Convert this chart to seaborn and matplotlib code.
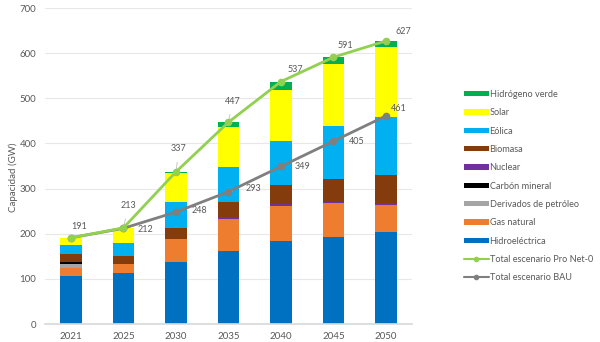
import numpy as np
import pandas as pd
import seaborn as sns
import matplotlib
matplotlib.use("Agg")
import matplotlib.pyplot as plt
from matplotlib.patches import Patch
from matplotlib.lines import Line2D

years = ["2021", "2025", "2030", "2035", "2040", "2045", "2050"]
hidroelectrica = [107, 112, 138, 162, 183, 193, 204]
gas_natural = [17, 20, 50, 71, 79, 75, 60]
derivados = [9, 0, 0, 0, 0, 0, 0]
carbon = [4, 0, 0, 0, 0, 0, 0]
nuclear = [0, 1, 0, 3, 4, 3, 3]
biomasa = [17, 18, 24, 34, 42, 51, 62]
eolica = [20, 29, 59, 78, 98, 117, 129]
solar = [16, 32, 63, 89, 113, 138, 156]
hidrogeno = [0, 1, 3, 10, 18, 14, 13]
total_pronet0 = [191, 213, 337, 447, 537, 591, 627]
total_bau = [191, 212, 248, 293, 349, 405, 461]

series_names = ["Hidroeléctrica", "Gas natural", "Derivados de petróleo", "Carbón mineral",
                "Nuclear", "Biomasa", "Eólica", "Solar", "Hidrógeno verde"]
series_vals = [hidroelectrica, gas_natural, derivados, carbon, nuclear, biomasa, eolica, solar, hidrogeno]
colors = ["#0070C0", "#EF7D30", "#A5A5A5", "#000000", "#7030A0", "#843C0C", "#00B0F0", "#FFFF00", "#00B050"]
green_line = "#92D050"
grey_line = "#7F7F7F"
text_col = "#595959"

sns.set_theme(style="white")
plt.rcParams["font.family"] = ["Lato", "DejaVu Sans"]

fig = plt.figure(figsize=(6, 3.42), dpi=100)
ax = fig.add_axes([0.0745, 0.0526, 0.6125, 0.924])

bottom = np.zeros(len(years))
for name, vals, c in zip(series_names, series_vals, colors):
    df = pd.DataFrame({"year": years, "val": vals})
    sns.barplot(data=df, x="year", y="val", order=years, color=c, bottom=bottom,
                width=0.41, ax=ax, saturation=1, linewidth=0, errorbar=None)
    bottom = bottom + np.array(vals)

xs = np.arange(len(years))
ax.plot(xs, total_bau, color=grey_line, lw=2, marker="o", ms=4.5, zorder=5)
ax.plot(xs, total_pronet0, color=green_line, lw=2, marker="o", ms=4.5, zorder=6)

ax.set_xlim(-0.5, 6.5)
ax.set_ylim(0, 700)
ax.set_yticks(range(0, 701, 100))
ax.grid(axis="y", color="#E8E8E8", lw=0.8)
ax.set_axisbelow(True)
for s in ["left", "right", "top"]:
    ax.spines[s].set_visible(False)
ax.spines["bottom"].set_color("#D9D9D9")
ax.tick_params(axis="both", labelsize=7, colors=text_col, length=0, pad=6)
ax.set_xlabel("")
ax.set_ylabel("Capacidad (GW)", fontsize=7, color=text_col)
ax.yaxis.set_label_coords(-0.072, 0.465)

pn_off = [(8, 11), (5, 22), (3, 23), (4, 21), (14, 12), (12, 12), (17, 9)]
bau_off = [None, (22, -1), (23, 2), (25, 3), (22, 0), (23, 0), (13, 7)]
for i, (v, off) in enumerate(zip(total_pronet0, pn_off)):
    ax.annotate(str(v), (i, v), xytext=off, textcoords="offset pixels", fontsize=6.5,
                color=text_col, ha="center", va="center",
                arrowprops=dict(arrowstyle="-", color="#BFBFBF", lw=0.6, shrinkA=4, shrinkB=0))
for i, (v, off) in enumerate(zip(total_bau, bau_off)):
    if off is None:
        continue
    ax.annotate(str(v), (i, v), xytext=off, textcoords="offset pixels", fontsize=6.5,
                color=text_col, ha="center", va="center",
                arrowprops=dict(arrowstyle="-", color="#BFBFBF", lw=0.6, shrinkA=7, shrinkB=0))

handles = [Patch(facecolor=c, edgecolor="none") for c in colors][::-1]
labels = series_names[::-1]
handles += [Line2D([0], [0], color=green_line, lw=1.5, marker="o", ms=3),
            Line2D([0], [0], color=grey_line, lw=1.5, marker="o", ms=3)]
labels += ["Total escenario Pro Net-0", "Total escenario BAU"]
leg = fig.legend(handles, labels, loc="upper left", bbox_to_anchor=(0.767, 0.748),
                 frameon=False, fontsize=6.6, handlelength=2.7, handleheight=0.5,
                 handletextpad=0.1, labelspacing=1.02, borderaxespad=0)
for t in leg.get_texts():
    t.set_color(text_col)

fig.savefig("out.png", dpi=100)
